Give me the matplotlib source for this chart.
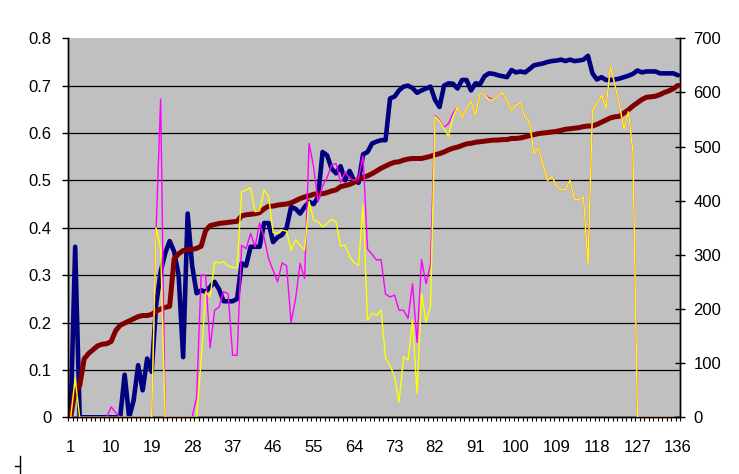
import numpy as np
import matplotlib.pyplot as plt
from matplotlib.lines import Line2D

plt.rcParams['font.family'] = ['Liberation Sans', 'DejaVu Sans']

# categories 1..136
x = np.arange(1, 137)

# thick navy series, left axis
blue = [0, 0.36, 0, 0, 0, 0, 0, 0, 0, 0,
        0, 0, 0.09, 0, 0.036, 0.11, 0.057, 0.124, 0.096, 0.237,
        0.307, 0.346, 0.372, 0.35, 0.30, 0.127, 0.43, 0.32, 0.262, 0.268,
        0.265, 0.275, 0.286, 0.27, 0.245, 0.245, 0.245, 0.25, 0.325, 0.32,
        0.36, 0.36, 0.36, 0.41, 0.41, 0.37, 0.38, 0.385, 0.40, 0.444,
        0.44, 0.43, 0.444, 0.455, 0.45, 0.465, 0.56, 0.553, 0.525, 0.515,
        0.53, 0.50, 0.52, 0.50, 0.495, 0.555, 0.56, 0.578, 0.582, 0.585,
        0.585, 0.673, 0.677, 0.69, 0.698, 0.70, 0.695, 0.685, 0.69, 0.694,
        0.698, 0.67, 0.655, 0.70, 0.705, 0.704, 0.694, 0.712, 0.712, 0.69,
        0.705, 0.703, 0.72, 0.726, 0.725, 0.722, 0.72, 0.718, 0.733, 0.728,
        0.73, 0.728, 0.735, 0.743, 0.745, 0.747, 0.75, 0.752, 0.753, 0.755,
        0.752, 0.755, 0.752, 0.753, 0.755, 0.763, 0.726, 0.713, 0.718, 0.712,
        0.712, 0.713, 0.715, 0.718, 0.721, 0.725, 0.732, 0.728, 0.73, 0.73,
        0.73, 0.726, 0.726, 0.726, 0.726, 0.722]

# thick dark red running total, right axis
total = [0, 50, 58, 108, 118, 125, 132, 135, 136, 140,
         160, 170, 174, 178, 182, 186, 188, 188, 190, 196,
         200, 203, 205, 293, 302, 308, 310, 310, 312, 316,
         345, 354, 356, 358, 359, 360, 361, 362, 372, 374,
         375, 376, 378, 385, 390, 390, 392, 393, 394, 396,
         400, 404, 407, 409, 412, 413, 413, 415, 418, 420,
         426, 428, 430, 434, 440, 443, 446, 450, 455, 460,
         464, 468, 471, 472, 475, 477, 478, 478, 478, 480,
         482, 485, 487, 490, 494, 497, 499, 502, 505, 506,
         508, 509, 510, 511, 512, 512, 513, 513, 515, 515,
         516, 518, 520, 522, 524, 525, 526, 527, 528, 530,
         532, 533, 534, 535, 537, 538, 538, 541, 545, 549,
         553, 555, 556, 562, 568, 575, 581, 587, 591, 592,
         593, 596, 600, 603, 607, 613]

# thin magenta series, left axis
pink = [0, 0, 0, 0, 0, 0, 0, 0, 0, 0.022,
        0.01, 0, 0, 0, 0, 0, 0, 0, 0, 0.40,
        0.672, 0, 0, 0, 0, 0, 0, 0, 0.043, 0.30,
        0.30, 0.147, 0.226, 0.233, 0.265, 0.261, 0.131, 0.131, 0.363, 0.356,
        0.388, 0.36, 0.41, 0.38, 0.335, 0.31, 0.286, 0.326, 0.32, 0.20,
        0.25, 0.325, 0.293, 0.578, 0.529, 0.455, 0.488, 0.506, 0.532, 0.536,
        0.495, 0.518, 0.504, 0.50, 0.505, 0.552, 0.355, 0.344, 0.332, 0.333,
        0.26, 0.254, 0.258, 0.226, 0.226, 0.209, 0.282, 0.158, 0.333, 0.282,
        0.323, 0.637, 0.627, 0.612, 0.62, 0.642, 0.655, 0.633, 0.652, 0.667,
        0.638, 0.683, 0.682, 0.674, 0.67, 0.678, 0.686, 0.67, 0.647, 0.659,
        0.664, 0.633, 0.624, 0.557, 0.568, 0.534, 0.50, 0.508, 0.488, 0.481,
        0.481, 0.50, 0.46, 0.46, 0.465, 0.32, 0.648, 0.662, 0.68, 0.652,
        0.741, 0.702, 0.66, 0.608, 0.645, 0.56, 0, 0, 0, 0,
        0, 0, 0, 0, 0, np.nan]

# thin yellow series, left axis
yellow = [0, 0.082, 0, 0, 0, 0, 0, 0, 0, 0,
          0, 0, 0, 0, 0, 0, 0, 0, 0, 0.40,
          0.355, 0, 0, 0, 0, 0, 0, 0, 0, 0.12,
          0.265, 0.254, 0.328, 0.326, 0.328, 0.32, 0.316, 0.316, 0.476, 0.48,
          0.485, 0.434, 0.436, 0.48, 0.467, 0.39, 0.388, 0.395, 0.393, 0.353,
          0.375, 0.363, 0.353, 0.456, 0.416, 0.413, 0.402, 0.409, 0.418, 0.413,
          0.362, 0.363, 0.34, 0.326, 0.321, 0.448, 0.205, 0.22, 0.215, 0.226,
          0.125, 0.11, 0.085, 0.032, 0.128, 0.12, 0.205, 0.05, 0.261, 0.201,
          0.235, 0.635, 0.625, 0.61, 0.593, 0.634, 0.655, 0.633, 0.652, 0.667,
          0.638, 0.683, 0.682, 0.67, 0.67, 0.678, 0.686, 0.67, 0.647, 0.659,
          0.664, 0.633, 0.624, 0.557, 0.568, 0.534, 0.50, 0.508, 0.488, 0.481,
          0.481, 0.50, 0.46, 0.46, 0.465, 0.32, 0.648, 0.662, 0.68, 0.652,
          0.741, 0.702, 0.66, 0.608, 0.645, 0.56, 0, 0, 0, 0,
          0, 0, 0, 0, 0, np.nan]

left_ticks = np.arange(0, 0.81, 0.1)
right_ticks = np.arange(0, 701, 100)
cat_ticks = np.arange(1, 137, 9)

fig = plt.figure(figsize=(7.39, 4.74), dpi=100)
ax = fig.add_axes([0.0926, 0.1196, 0.8278, 0.7996])
ax.set_facecolor('#C0C0C0')
ax.set_axisbelow(True)

ax2 = ax.twinx()
ax3 = ax.twinx()   # thin lines go on top of the running total

ax.plot(x, blue, color='#000080', lw=3.3, solid_capstyle='round', solid_joinstyle='round')
ax2.plot(x, total, color='#800000', lw=3.6, solid_capstyle='round', solid_joinstyle='round')
ax3.plot(x, pink, color='#FF00FF', lw=1.0)
ax3.plot(x, yellow, color='#FFFF00', lw=1.0)

ax.set_xlim(0.5, 136.5)
ax.set_ylim(0, 0.8)
ax2.set_ylim(0, 700)
ax3.set_ylim(0, 0.8)
ax3.axis('off')

# left axis
ax.set_yticks(left_ticks)
ax.set_yticklabels(['0'] + ['%.1f' % v for v in left_ticks[1:]])
ax.tick_params(axis='y', direction='out', length=4, width=1, pad=8, labelsize=12)
ax.yaxis.grid(True, color='black', lw=0.9)
ax.get_ygridlines()[-1].set_visible(False)

# right axis
ax2.set_yticks(right_ticks)
ax2.set_yticklabels([str(int(v)) for v in right_ticks])
ax2.tick_params(axis='y', direction='inout', length=7, width=1, pad=6, labelsize=12)

# category axis: labels every 9, small ticks between categories
ax.set_xticks(cat_ticks)
ax.set_xticklabels([str(v) for v in cat_ticks])
ax.set_xticks(np.arange(0.5, 137, 1), minor=True)
ax.tick_params(axis='x', which='major', length=0, pad=16, labelsize=12)
ax.tick_params(axis='x', which='minor', direction='out', length=3.2, width=0.8)

for a in (ax, ax2):
    a.spines['top'].set_visible(False)
    for s in ('left', 'right', 'bottom'):
        a.spines[s].set_color('black')
        a.spines[s].set_linewidth(1)

# edge of the chart frame at the lower left
fig.add_artist(Line2D([20 / 739, 20 / 739], [0, 18 / 474], color='black', lw=1))
fig.add_artist(Line2D([15 / 739, 20 / 739], [8 / 474, 8 / 474], color='black', lw=1))

fig.savefig('out.png', dpi=100)
